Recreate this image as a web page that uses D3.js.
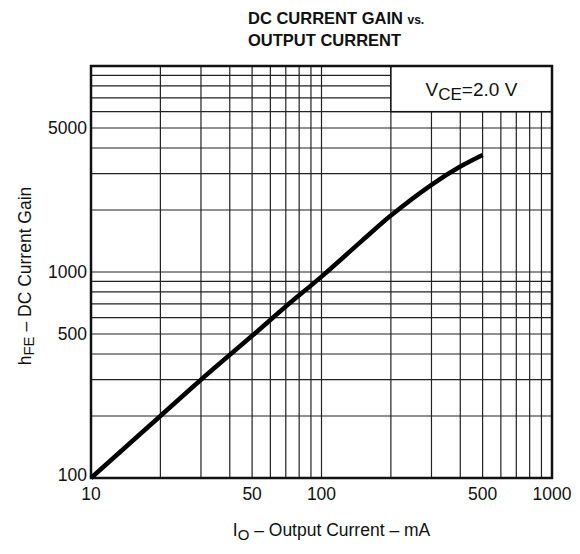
<!DOCTYPE html>
<html>
<head>
<meta charset="utf-8">
<script src="https://cdn.jsdelivr.net/npm/d3@7"></script>
<style>
  body { margin: 0; background: #fff; }
  text { font-family: "Liberation Sans", Arial, sans-serif; fill: #111; }
</style>
</head>
<body>
<div id="chart"></div>
<script>
// values
const currentMA = [10, 20, 30, 50, 70, 100, 150, 200, 300, 400, 500];
const gainHFE = [100, 200, 300, 490, 680, 950, 1420, 1880, 2650, 3250, 3700];
const xTicks = [10, 50, 100, 500, 1000];
const yTicks = [100, 500, 1000, 5000];
const xGrid = [20, 30, 40, 50, 60, 70, 80, 90, 100, 200, 300, 400, 500, 600, 700, 800, 900];
const yGrid = [200, 300, 400, 500, 600, 700, 800, 900, 1000, 2000, 3000, 4000, 5000, 6000, 7000, 8000, 9000];

const W = 580, H = 554;
const plotL = 91, plotR = 552, plotT = 66, plotB = 478;

const svg = d3.select("#chart").append("svg")
  .attr("width", W).attr("height", H);

const x = d3.scaleLog().domain([10, 1000]).range([plotL, plotR]);
const y = d3.scaleLog().domain([100, 10000]).range([plotB, plotT]);

// grid
svg.append("g").selectAll("line").data(xGrid).join("line")
  .attr("x1", d => x(d)).attr("x2", d => x(d))
  .attr("y1", plotT).attr("y2", plotB)
  .attr("stroke", "#222").attr("stroke-width", 1.2);
svg.append("g").selectAll("line").data(yGrid).join("line")
  .attr("x1", plotL).attr("x2", plotR)
  .attr("y1", d => y(d)).attr("y2", d => y(d))
  .attr("stroke", "#222").attr("stroke-width", 1.2);

// legend box covers the grid in the top right corner
svg.append("rect")
  .attr("x", x(200)).attr("y", plotT)
  .attr("width", plotR - x(200)).attr("height", y(6000) - plotT)
  .attr("fill", "#fff").attr("stroke", "#111").attr("stroke-width", 1.5);
const leg = svg.append("text")
  .attr("x", (x(200) + plotR) / 2).attr("y", (plotT + y(6000)) / 2 + 7)
  .attr("text-anchor", "middle").style("font-size", "19px");
leg.append("tspan").text("V");
leg.append("tspan").attr("dy", 4).style("font-size", "17px").text("CE");
leg.append("tspan").attr("dy", -4).text("=2.0 V");

// frame
svg.append("rect")
  .attr("x", plotL).attr("y", plotT)
  .attr("width", plotR - plotL).attr("height", plotB - plotT)
  .attr("fill", "none").attr("stroke", "#111").attr("stroke-width", 2.5);

// curve
const line = d3.line()
  .x((d, i) => x(currentMA[i]))
  .y(d => y(d))
  .curve(d3.curveCatmullRom.alpha(0.5));
svg.append("path")
  .attr("d", line(gainHFE))
  .attr("fill", "none").attr("stroke", "#000")
  .attr("stroke-width", 4.5).attr("stroke-linecap", "butt");

// tick labels
svg.append("g").selectAll("text").data(yTicks).join("text")
  .attr("x", plotL - 4).attr("y", d => y(d) + (d === 100 ? 3 : 6))
  .attr("text-anchor", "end").style("font-size", "17.5px")
  .text(d => d);
svg.append("g").selectAll("text").data(xTicks).join("text")
  .attr("x", d => x(d)).attr("y", plotB + 22)
  .attr("text-anchor", "middle").style("font-size", "17.5px")
  .text(d => d);

// axis titles
const yl = svg.append("text")
  .attr("transform", `translate(31,${(plotT + plotB) / 2 + 4}) rotate(-90)`)
  .attr("text-anchor", "middle").style("font-size", "17.5px");
yl.append("tspan").text("h");
yl.append("tspan").attr("dy", 3).style("font-size", "15px").text("FE");
yl.append("tspan").attr("dy", -3).text(" \u2013 DC Current Gain");

const xl = svg.append("text")
  .attr("x", x(100) + 10).attr("y", 536)
  .attr("text-anchor", "middle").style("font-size", "17.5px");
xl.append("tspan").text("I");
xl.append("tspan").attr("dy", 4).style("font-size", "15px").text("O");
xl.append("tspan").attr("dy", -4).text(" \u2013 Output Current \u2013 mA");

// title
const t1 = svg.append("text").attr("x", 248).attr("y", 24)
  .style("font-size", "16.5px").style("font-weight", "bold");
t1.append("tspan").text("DC CURRENT GAIN ");
t1.append("tspan").style("font-size", "12px").text("vs.");
svg.append("text").attr("x", 248).attr("y", 46)
  .style("font-size", "16.5px").style("font-weight", "bold")
  .text("OUTPUT CURRENT");
</script>
</body>
</html>
